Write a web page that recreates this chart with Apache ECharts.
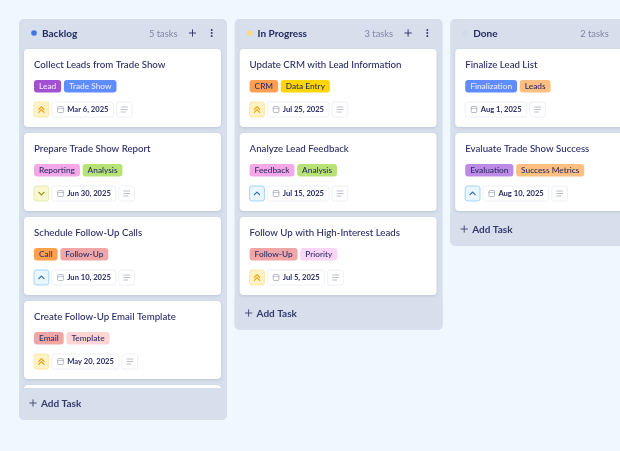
<!DOCTYPE html>
<html>
<head>
<meta charset="utf-8">
<title>Task board</title>
<style>
html,body{margin:0;padding:0;background:#eff8ff;}
#board{width:620px;height:451px;}
</style>
</head>
<body>
<div id="board"></div>
<script src="https://cdn.jsdelivr.net/npm/echarts@6/dist/echarts.min.js"></script>
<script>
// board content
const columnNames = ['Backlog', 'In Progress', 'Done'];
const columnTaskCounts = [5, 3, 2];
const taskColumns = [0, 0, 0, 0, 0, 1, 1, 1, 2, 2];
const taskRows = [0, 1, 2, 3, 4, 0, 1, 2, 0, 1];
const taskTitles = [
    'Collect Leads from Trade Show', 'Prepare Trade Show Report', 'Schedule Follow-Up Calls',
    'Create Follow-Up Email Template', '',
    'Update CRM with Lead Information', 'Analyze Lead Feedback', 'Follow Up with High-Interest Leads',
    'Finalize Lead List', 'Evaluate Trade Show Success'
];
const taskTags = [
    ['Lead', 'Trade Show'], ['Reporting', 'Analysis'], ['Call', 'Follow-Up'], ['Email', 'Template'], [],
    ['CRM', 'Data Entry'], ['Feedback', 'Analysis'], ['Follow-Up', 'Priority'],
    ['Finalization', 'Leads'], ['Evaluation', 'Success Metrics']
];
const taskDates = [
    'Mar 6, 2025', 'Jun 30, 2025', 'Jun 10, 2025', 'May 20, 2025', '',
    'Jul 25, 2025', 'Jul 15, 2025', 'Jul 5, 2025',
    'Aug 1, 2025', 'Aug 10, 2025'
];
const taskPriorities = ['highest', 'low', 'high', 'highest', '', 'highest', 'high', 'highest', '', 'high'];

// styles
const FONT = 'Lato, "Noto Sans", sans-serif';
const INK = '#272c65';
const PANEL = '#d6dfeb';
const dotColors = ['#4274e2', '#ffd97e', '#d1dbe7'];
const tagColors = {
    'Lead': '#a24fd0', 'Trade Show': '#5f8dff', 'Reporting': '#f5a8e8', 'Analysis': '#b7e276',
    'Call': '#ffa04d', 'Follow-Up': '#f0a6a6', 'Email': '#f0a6a6', 'Template': '#fdd5d5',
    'CRM': '#ff9f52', 'Data Entry': '#ffd600', 'Feedback': '#f5a8e8', 'Priority': '#fad5f5',
    'Finalization': '#5f8dff', 'Leads': '#ffbf80', 'Evaluation': '#bd8be5', 'Success Metrics': '#ffbf80'
};
const lightTextTags = ['Lead', 'Trade Show', 'Finalization'];
const priorityStyles = {
    highest: {fill: '#fff3c6', stroke: '#ffe394', icon: '#f59f0b'},
    low: {fill: '#f9f7cf', stroke: '#dfe9a0', icon: '#8f8f14'},
    high: {fill: '#eaf6ff', stroke: '#8ccdf8', icon: '#2f6cae'}
};

const COL_PITCH = 215.6;
const ROW_PITCH = 84;
const measure = document.createElement('canvas').getContext('2d');
function textWidth(str, font) {
    measure.font = font;
    return measure.measureText(str).width;
}
function label(x, y, text, size, weight, fill, align) {
    return {
        type: 'text',
        style: {
            x: x, y: y, text: text, fill: fill,
            font: weight + ' ' + size + 'px ' + FONT,
            align: align || 'left', verticalAlign: 'middle'
        }
    };
}
function box(x, y, w, h, r, fill, stroke) {
    return {
        type: 'rect',
        shape: {x: x, y: y, width: w, height: h, r: r},
        style: {fill: fill, stroke: stroke || null, lineWidth: stroke ? 0.8 : 0}
    };
}
function stroke(points, color, width) {
    return {
        type: 'polyline',
        shape: {points: points},
        style: {fill: null, stroke: color, lineWidth: width || 1, lineCap: 'round', lineJoin: 'round'}
    };
}
function plusIcon(cx, cy, size, color) {
    return [
        stroke([[cx - size, cy], [cx + size, cy]], color, 1),
        stroke([[cx, cy - size], [cx, cy + size]], color, 1)
    ];
}

function renderPanel(params, api) {
    const i = api.value(0);
    const origin = api.coord([i, 0]);
    const x = origin[0], top = origin[1] - 30;
    const visibleRows = Math.min(columnTaskCounts[i], 4);
    const bottom = api.coord([i, visibleRows])[1] + (columnTaskCounts[i] > 4 ? 35 : 29);
    const kids = [
        box(x, top, 208, bottom - top, 5, PANEL),
        {type: 'circle', shape: {cx: x + 15, cy: top + 14, r: 2.8}, style: {fill: dotColors[i]}},
        label(x + 23, top + 14.5, columnNames[i], 10, 700, '#222a5e'),
        label(x + 158.5, top + 14.5, columnTaskCounts[i] + ' tasks', 9.3, 400, '#7f86a6', 'right')
    ];
    if (i < 2) {
        kids.push.apply(kids, plusIcon(x + 173.5, top + 14, 3.2, '#363c6e'));
        [-3, 0, 3].forEach(function (d) {
            kids.push({type: 'circle', shape: {cx: x + 192.7, cy: top + 14 + d, r: 1}, style: {fill: '#363c6e'}});
        });
    }
    return {type: 'group', children: kids};
}

function renderCard(params, api) {
    const i = api.value(2);
    const p = api.coord([api.value(0), api.value(1)]);
    const x = p[0] + 5, y = p[1];
    // the last backlog card only shows its top edge above the footer
    const kids = [{
        type: 'rect',
        shape: {x: x, y: y, width: 197, height: taskTitles[i] ? 78 : 8, r: 4},
        style: {fill: '#fff', shadowBlur: 3, shadowColor: 'rgba(70,90,150,.18)', shadowOffsetY: 1}
    }];
    if (!taskTitles[i]) return {type: 'group', children: kids};

    kids.push(label(x + 10, y + 16, taskTitles[i], 9.7, 500, INK));

    // tags
    let cx = x + 10;
    const tagFont = '500 8.3px ' + FONT;
    taskTags[i].forEach(function (tag) {
        const w = textWidth(tag, tagFont) + 10;
        kids.push(box(cx, y + 31, w, 12.5, 3, tagColors[tag]));
        kids.push(label(cx + 5, y + 37.7, tag, 8.3, 500, lightTextTags.indexOf(tag) >= 0 ? '#ece8fa' : INK));
        cx += w + 2.7;
    });

    // priority, date, notes
    const rowY = y + 53;
    cx = x + 10;
    const level = taskPriorities[i];
    if (level) {
        const st = priorityStyles[level];
        const mx = cx + 7.4, my = rowY + 7.5;
        kids.push(box(cx, rowY, 14.8, 15, 2.5, st.fill, st.stroke));
        if (level === 'highest') {
            kids.push(stroke([[mx - 2.6, my - 0.2], [mx, my - 2.8], [mx + 2.6, my - 0.2]], st.icon, 1.2));
            kids.push(stroke([[mx - 2.6, my + 2.8], [mx, my + 0.2], [mx + 2.6, my + 2.8]], st.icon, 1.2));
        } else if (level === 'high') {
            kids.push(stroke([[mx - 2.6, my + 1.2], [mx, my - 1.4], [mx + 2.6, my + 1.2]], st.icon, 1.2));
        } else {
            kids.push(stroke([[mx - 2.6, my - 1.2], [mx, my + 1.4], [mx + 2.6, my - 1.2]], st.icon, 1.2));
        }
        cx += 17.7;
    }
    const dateFont = '700 7.6px ' + FONT;
    const dateW = textWidth(taskDates[i], dateFont) + 20.5;
    kids.push(box(cx, rowY, dateW, 15, 2.5, '#fff', '#e9ecf5'));
    kids.push(box(cx + 6, rowY + 4.5, 5.6, 6, 0.8, '#fff', '#a3a8bd'));
    kids.push(stroke([[cx + 6, rowY + 6.4], [cx + 11.6, rowY + 6.4]], '#a3a8bd', 0.7));
    kids.push(label(cx + 15.5, rowY + 8, taskDates[i], 7.6, 700, INK));
    cx += dateW + 3;
    kids.push(box(cx, rowY, 15.7, 15, 2.5, '#fff', '#e9ecf5'));
    kids.push(stroke([[cx + 5, rowY + 5], [cx + 11, rowY + 5]], '#a9aec2', 0.8));
    kids.push(stroke([[cx + 5, rowY + 7.5], [cx + 11, rowY + 7.5]], '#a9aec2', 0.8));
    kids.push(stroke([[cx + 5, rowY + 10], [cx + 9, rowY + 10]], '#a9aec2', 0.8));
    return {type: 'group', children: kids};
}

function renderFooter(params, api) {
    const i = api.value(0);
    const x = api.coord([i, 0])[0];
    const visibleRows = Math.min(columnTaskCounts[i], 4);
    const bottom = api.coord([i, visibleRows])[1] + (columnTaskCounts[i] > 4 ? 35 : 29);
    const kids = [
        {
            type: 'rect',
            shape: {x: x, y: bottom - 32, width: 208, height: 32, r: [0, 0, 5, 5]},
            style: {fill: PANEL}
        },
        label(x + 22, bottom - 16.5, 'Add Task', 10, 700, '#343a6c')
    ];
    kids.push.apply(kids, plusIcon(x + 14, bottom - 17, 3.2, '#4a5078'));
    return {type: 'group', children: kids};
}

const chart = echarts.init(document.getElementById('board'), null, {width: 620, height: 451});
chart.setOption({
    animation: false,
    backgroundColor: '#eff8ff',
    grid: {left: 19, top: 49, right: 0, bottom: 0},
    xAxis: {type: 'value', min: 0, max: 601 / COL_PITCH, show: false},
    yAxis: {type: 'value', min: 0, max: 402 / ROW_PITCH, inverse: true, show: false},
    series: [
        {
            type: 'custom', z: 1, silent: true, clip: false,
            data: columnNames.map(function (n, i) { return [i]; }),
            encode: {x: 0},
            renderItem: renderPanel
        },
        {
            type: 'custom', z: 2, silent: true, clip: false,
            data: taskRows.map(function (row, i) { return [taskColumns[i], row, i]; }),
            encode: {x: 0, y: 1},
            renderItem: renderCard
        },
        {
            type: 'custom', z: 3, silent: true, clip: false,
            data: columnNames.map(function (n, i) { return [i]; }),
            encode: {x: 0},
            renderItem: renderFooter
        }
    ]
});
</script>
</body>
</html>
